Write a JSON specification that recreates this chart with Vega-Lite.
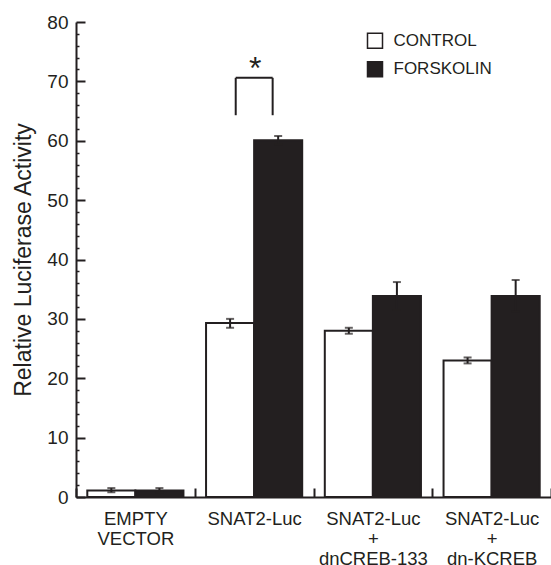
{
  "$schema": "https://vega.github.io/schema/vega-lite/v6.json",
  "width": 475,
  "height": 475,
  "autosize": {"type": "none"},
  "padding": {"left": 76, "top": 22, "right": 0, "bottom": 68},
  "background": "white",
  "config": {
    "view": {"stroke": null},
    "font": "Liberation Sans",
    "axis": {
      "domainColor": "#231f20",
      "domainWidth": 2,
      "tickColor": "#231f20",
      "tickWidth": 2,
      "labelColor": "#231f20",
      "titleColor": "#231f20",
      "grid": false
    }
  },
  "datasets": {
    "bars": [
      {"group": "EMPTY|VECTOR", "series": "CONTROL", "value": 1.1, "lo": 0.8, "hi": 1.5},
      {"group": "EMPTY|VECTOR", "series": "FORSKOLIN", "value": 1.1, "lo": 0.8, "hi": 1.5},
      {"group": "SNAT2-Luc", "series": "CONTROL", "value": 29.3, "lo": 28.5, "hi": 30.0},
      {"group": "SNAT2-Luc", "series": "FORSKOLIN", "value": 60.1, "lo": 59.4, "hi": 60.8},
      {"group": "SNAT2-Luc|+|dnCREB-133", "series": "CONTROL", "value": 28.0, "lo": 27.5, "hi": 28.5},
      {"group": "SNAT2-Luc|+|dnCREB-133", "series": "FORSKOLIN", "value": 33.85, "lo": 31.5, "hi": 36.2},
      {"group": "SNAT2-Luc|+|dn-KCREB", "series": "CONTROL", "value": 23.0, "lo": 22.5, "hi": 23.5},
      {"group": "SNAT2-Luc|+|dn-KCREB", "series": "FORSKOLIN", "value": 33.85, "lo": 31.2, "hi": 36.55}
    ],
    "bracket": [
      {"group": "SNAT2-Luc", "lo": 64.3, "hi": 70.6, "star": 70.4, "mark": "*"}
    ]
  },
  "layer": [
    {
      "data": {"name": "bars"},
      "mark": {"type": "bar", "stroke": "#231f20", "strokeWidth": 2},
      "encoding": {
        "x": {
          "field": "group", "type": "nominal", "sort": null,
          "scale": {"paddingInner": 0, "paddingOuter": 0},
          "axis": {
            "title": null,
            "labelAngle": 0,
            "tickBand": "extent",
            "tickSize": -9,
            "labelFontSize": 18.5,
            "labelLineHeight": 20,
            "labelPadding": 21,
            "labelExpr": "split(datum.label, '|')"
          }
        },
        "xOffset": {
          "field": "series", "type": "nominal", "sort": ["CONTROL", "FORSKOLIN"],
          "scale": {"paddingInner": 0, "paddingOuter": 0.235}
        },
        "y": {
          "field": "value", "type": "quantitative",
          "scale": {"domain": [0, 80], "nice": false, "zero": true},
          "axis": {
            "title": "Relative Luciferase Activity",
            "titleFontSize": 23,
            "titleFontWeight": "normal",
            "titlePadding": 11,
            "values": [0, 10, 20, 30, 40, 50, 60, 70, 80],
            "tickSize": -9,
            "labelFontSize": 19,
            "labelPadding": 17,
            "orient": "left"
          }
        },
        "fill": {
          "field": "series", "type": "nominal",
          "scale": {"domain": ["CONTROL", "FORSKOLIN"], "range": ["#ffffff", "#231f20"]},
          "legend": {
            "title": null,
            "orient": "none",
            "legendX": 290.5,
            "legendY": 10.3,
            "padding": 0,
            "symbolType": "square",
            "symbolSize": 225,
            "symbolStrokeColor": "#231f20",
            "symbolStrokeWidth": 1.5,
            "labelFontSize": 17,
            "labelColor": "#231f20",
            "labelOffset": 10,
            "rowPadding": 7.5
          }
        }
      }
    },
    {
      "data": {"name": "bars"},
      "mark": {"type": "rule", "color": "#231f20", "strokeWidth": 2},
      "encoding": {
        "x": {"field": "group", "type": "nominal", "sort": null},
        "xOffset": {"field": "series", "type": "nominal", "sort": ["CONTROL", "FORSKOLIN"]},
        "y": {"field": "lo", "type": "quantitative", "axis": null},
        "y2": {"field": "hi"}
      }
    },
    {
      "data": {"name": "bars"},
      "mark": {"type": "tick", "color": "#231f20", "size": 8, "thickness": 2, "orient": "horizontal"},
      "encoding": {
        "x": {"field": "group", "type": "nominal", "sort": null},
        "xOffset": {"field": "series", "type": "nominal", "sort": ["CONTROL", "FORSKOLIN"]},
        "y": {"field": "hi", "type": "quantitative", "axis": null}
      }
    },
    {
      "data": {"name": "bars"},
      "mark": {"type": "tick", "color": "#231f20", "size": 8, "thickness": 2, "orient": "horizontal"},
      "encoding": {
        "x": {"field": "group", "type": "nominal", "sort": null},
        "xOffset": {"field": "series", "type": "nominal", "sort": ["CONTROL", "FORSKOLIN"]},
        "y": {
          "field": "lo", "type": "quantitative",
          "axis": {
            "orient": "left",
            "title": null,
            "labels": false,
            "domain": false,
            "tickSize": -3,
            "tickWidth": 1.5,
            "values": [2, 4, 6, 8, 12, 14, 16, 18, 22, 24, 26, 28, 32, 34, 36, 38, 42, 44, 46, 48, 52, 54, 56, 58, 62, 64, 66, 68, 72, 74, 76, 78]
          }
        }
      }
    },
    {
      "data": {"name": "bracket"},
      "mark": {"type": "rule", "color": "#231f20", "strokeWidth": 2},
      "encoding": {
        "x": {"field": "group", "type": "nominal", "sort": null, "bandPosition": 0.345},
        "y": {"field": "lo", "type": "quantitative", "axis": null},
        "y2": {"field": "hi"}
      }
    },
    {
      "data": {"name": "bracket"},
      "mark": {"type": "rule", "color": "#231f20", "strokeWidth": 2},
      "encoding": {
        "x": {"field": "group", "type": "nominal", "sort": null, "bandPosition": 0.656},
        "y": {"field": "lo", "type": "quantitative", "axis": null},
        "y2": {"field": "hi"}
      }
    },
    {
      "data": {"name": "bracket"},
      "mark": {"type": "rule", "color": "#231f20", "strokeWidth": 2},
      "encoding": {
        "x": {"field": "group", "type": "nominal", "sort": null, "bandPosition": 0.345},
        "x2": {"field": "group", "bandPosition": 0.656},
        "y": {"field": "hi", "type": "quantitative", "axis": null}
      }
    },
    {
      "data": {"name": "bracket"},
      "mark": {"type": "text", "color": "#231f20", "fontSize": 32, "baseline": "alphabetic", "align": "center"},
      "encoding": {
        "x": {"field": "group", "type": "nominal", "sort": null, "bandPosition": 0.51},
        "y": {"field": "star", "type": "quantitative", "axis": null},
        "text": {"field": "mark"}
      }
    }
  ],
  "resolve": {"axis": {"y": "independent"}}
}
